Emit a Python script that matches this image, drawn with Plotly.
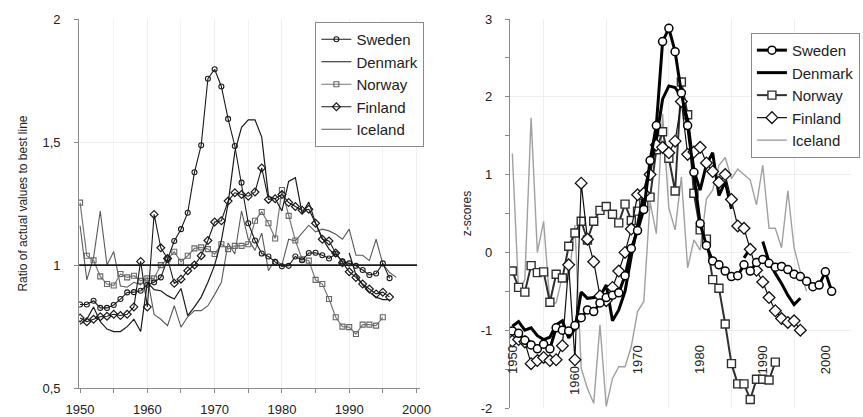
import plotly.graph_objects as go

# ---------------- data: left panel (ratio of actual values to best line) ----------------
years_left = list(range(1950, 1998))

sweden_l = [0.84, 0.84, 0.855, 0.826, 0.826, 0.838, 0.862, 0.889, 0.89, 0.896,
            0.92, 0.93, 0.95, 1.028, 1.098, 1.146, 1.213, 1.377, 1.487, 1.757,
            1.796, 1.726, 1.594, 1.484, 1.335, 1.17, 1.10, 1.047, 1.035, 1.013,
            0.995, 0.997, 1.035, 1.02, 1.049, 1.05, 1.04, 1.027, 1.045, 1.015,
            1.007, 0.997, 0.98, 0.96, 0.966, 1.007, 0.947]
denmark_l = [0.76, 0.78, 0.83, 0.77, 0.74, 0.73, 0.73, 0.75, 0.78, 0.73,
             0.93, 0.90, 0.896, 0.876, 0.862, 0.905, 0.795, 0.83, 0.87, 0.93,
             1.0, 1.1, 1.25, 1.46, 1.56, 1.59, 1.59, 1.52, 1.28, 1.27,
             1.22, 1.34, 1.355, 1.21, 1.256, 1.17, 1.11, 1.065, 1.04, None,
             1.05, 0.96, 0.92, 0.89, 0.87, 0.86, 0.86]
norway_l = [1.254, 1.038, 1.02, 0.954, 0.923, 0.917, 0.964, 0.95, 0.957, 0.936,
            0.946, 0.946, 1.0, 1.024, 1.054, 1.013, 1.038, 1.068, 1.072, 1.065,
            1.045, 1.085, 1.065, 1.078, 1.078, 1.085, 1.18, 1.216, 1.17, 1.108,
            1.305, 1.20, 1.10, 1.024, 1.018, 0.94, 0.923, 0.862, 0.788, 0.75,
            0.748, 0.72, 0.758, 0.758, 0.754, 0.788]
finland_l = [0.785, 0.77, 0.78, 0.79, 0.792, 0.80, 0.795, 0.80, 0.83, 1.015,
             0.83, 1.206, 1.07, 1.027, 0.926, 0.943, 0.977, 1.0, 1.038, 1.10,
             1.175, 1.18, 1.26, 1.294, 1.287, 1.28, 1.297, 1.395, 1.267, 1.27,
             1.287, 1.254, 1.238, 1.223, 1.227, 1.17, 1.105, 1.098, 1.049, 1.01,
             0.973, 0.95, 0.923, 0.903, 0.883, 0.89, 0.87]
iceland_l = [1.16, 0.94, 1.03, 1.22, 1.0, 1.055, 0.915, 0.91, 0.93, 0.92,
             0.95, 0.80, 0.78, 0.754, 0.835, 0.748, 0.79, 0.815, 0.815, 0.835,
             0.88, 0.93, 1.09, 1.045, 1.22, 1.105, 1.06, 1.13, 0.977, 1.024,
             1.0, 1.105, 1.098, 1.13, 1.162, 1.135, 1.146, 1.139, 1.125, 1.105,
             1.146, 1.04, 1.04, 1.018, 1.105, 1.004, 0.97, 0.95]
reference_ratio = 1.0

left_x_ticks = [1950, 1960, 1970, 1980, 1990, 2000]
left_x_labels = ["1950", "1960", "1970", "1980", "1990", "2000"]
left_y_ticks = [0.5, 1.0, 1.5, 2.0]
left_y_labels = ["0,5", "1", "1,5", "2"]

# ---------------- data: right panel (z-scores) ----------------
years_right = list(range(1950, 2002))

sweden_r = [-1.01, -1.04, -1.13, -1.19, -1.24, -1.18, -1.24, -0.97, -1.0, -1.01,
            -0.94, -0.84, -0.74, -0.76, -0.65, -0.58, -0.55, -0.52, -0.30, 0.05,
            0.28, 0.55, 1.18, 1.63, 2.71, 2.88, 2.58, 2.05, 1.63, 1.03,
            0.37, 0.09, -0.11, -0.16, -0.24, -0.31, -0.30, -0.16, -0.24, -0.13,
            -0.09, -0.14, -0.19, -0.18, -0.22, -0.28, -0.31, -0.37, -0.44, -0.42,
            -0.25, -0.50]
denmark_r = [-0.95, -0.89, -1.0, -0.97, -1.07, -1.12, -1.09, -0.93, -0.88, -1.10,
             -0.98, -0.51, -0.59, -0.58, -0.57, -0.42, -0.88, -0.74, -0.50, -0.05,
             0.35, 0.75, 1.1, 1.45, 1.97, 2.14, 2.12, 2.0, 1.7, 1.05,
             0.8, 1.13, 1.28, 0.73, 0.91, 0.56, None, -0.07, 0.05, None,
             0.14, -0.12, -0.27, -0.40, -0.55, -0.67, -0.59]
norway_r = [-0.24, -0.45, -0.51, -0.17, -0.26, -0.25, -0.64, -0.28, -0.33, 0.08,
            0.25, 0.40, 0.16, 0.40, 0.54, 0.59, 0.49, 0.38, 0.62, 0.41,
            0.53, 0.63, 0.71, 1.32, 1.55, 1.21, 0.79, 2.19, 1.77, 0.76,
            0.29, 0.17, -0.35, -0.46, -0.92, -1.43, -1.69, -1.69, -1.89, -1.63,
            -1.63, -1.64, -1.41]
finland_r = [-1.14, -1.12, -1.15, -1.43, -1.39, -1.35, -1.39, -1.38, -1.2, -0.16,
             -1.38, 0.89, 0.17, -0.12, -0.56, -0.62, -0.45, -0.24, 0.0, 0.30,
             0.74, 0.76, 1.0, 1.38, 1.35, 1.28, 1.43, 1.94, 1.26, 1.29,
             1.35, 1.15, 1.04, 0.90, 1.0, 0.68, 0.34, 0.31, 0.04, -0.23,
             -0.38, -0.58, -0.75, -0.85, -0.90, -0.88, -1.0]
iceland_r = [1.27, -0.5, -0.35, 1.73, 0.0, 0.4, -0.66, -0.65, -0.3, -0.35,
             0.35, -1.49, -1.75, -1.94, -0.93, -1.98, -1.62, -1.47, -1.47, -1.21,
             -0.76, -0.63, 0.65, 0.24, 1.78, 0.57, 0.29, 0.97, -0.2, 0.16,
             0.03, 0.69, 0.8, 1.12, 1.22, 0.95, 1.07, 1.0, 0.93, 0.61,
             1.12, 0.31, 0.31, 0.06, 0.79, 0.06, -0.25, -0.5]

right_x_labels = ["1950", "1960", "1970", "1980", "1990", "2000"]
right_x_label_years = [1950, 1960, 1970, 1980, 1990, 2000]
right_y_ticks = [-2, -1, 0, 1, 2, 3]
right_y_labels = ["-2", "-1", "0", "1", "2", "3"]

countries = ["Sweden", "Denmark", "Norway", "Finland", "Iceland"]

# ---------------- figure ----------------
FONT = "Liberation Sans, Arial, sans-serif"
fig = go.Figure()

def yrs(base, vals):
    return base[:len(vals)]

left_style = {
    "Sweden": dict(line=dict(color="#1a1a1a", width=1.1),
                   marker=dict(symbol="circle-open", size=5, color="#1a1a1a", line=dict(width=1.1)),
                   mode="lines+markers"),
    "Denmark": dict(line=dict(color="#1a1a1a", width=1.2), mode="lines"),
    "Norway": dict(line=dict(color="#777777", width=1.2),
                   marker=dict(symbol="square-open", size=5, color="#666666", line=dict(width=1.1)),
                   mode="lines+markers"),
    "Finland": dict(line=dict(color="#1a1a1a", width=1.1),
                    marker=dict(symbol="diamond-open", size=6, color="#1a1a1a", line=dict(width=1.2)),
                    mode="lines+markers"),
    "Iceland": dict(line=dict(color="#5a5a5a", width=1.1), mode="lines"),
}
left_vals = {"Sweden": sweden_l, "Denmark": denmark_l, "Norway": norway_l,
             "Finland": finland_l, "Iceland": iceland_l}

draw_order = ["Iceland", "Norway", "Denmark", "Finland", "Sweden"]
for name in draw_order:
    v = left_vals[name]
    st = left_style[name]
    fig.add_trace(go.Scatter(x=yrs(years_left, v), y=v, name=name, xaxis="x", yaxis="y",
                             legend="legend", legendrank=countries.index(name) + 1,
                             connectgaps=False, **st))

right_style = {
    "Sweden": dict(line=dict(color="#000000", width=3),
                   marker=dict(symbol="circle", size=8, color="white", line=dict(color="#000000", width=1.5)),
                   mode="lines+markers"),
    "Denmark": dict(line=dict(color="#000000", width=3), mode="lines"),
    "Norway": dict(line=dict(color="#303030", width=2),
                   marker=dict(symbol="square", size=8, color="white", line=dict(color="#303030", width=1.4)),
                   mode="lines+markers"),
    "Finland": dict(line=dict(color="#111111", width=1.2),
                    marker=dict(symbol="diamond", size=9, color="white", line=dict(color="#111111", width=1.3)),
                    mode="lines+markers"),
    "Iceland": dict(line=dict(color="#a0a0a0", width=1.4), mode="lines"),
}
right_vals = {"Sweden": sweden_r, "Denmark": denmark_r, "Norway": norway_r,
              "Finland": finland_r, "Iceland": iceland_r}
for name in draw_order:
    v = right_vals[name]
    st = right_style[name]
    fig.add_trace(go.Scatter(x=yrs(years_right, v), y=v, name=name, xaxis="x2", yaxis="y2",
                             legend="legend2", legendrank=countries.index(name) + 1,
                             connectgaps=False, **st))

W, H = 863, 417
axis_common = dict(showline=True, linecolor="#8a8a8a", linewidth=1, ticks="outside",
                   tickcolor="#8a8a8a", ticklen=4, zeroline=False,
                   tickfont=dict(family=FONT, size=13, color="#222222"))

fig.update_layout(
    width=W, height=H,
    margin=dict(l=0, r=0, t=19, b=6),
    paper_bgcolor="white", plot_bgcolor="white",
    font=dict(family=FONT, size=13, color="#222222"),
    xaxis=dict(domain=[67 / W, 418 / W], range=[1949.86, 2000.58], anchor="y",
               tickmode="array", tickvals=left_x_ticks, ticktext=left_x_labels,
               ticklabelstandoff=5,
               showgrid=True, gridcolor="#eeeeee",
               minor=dict(dtick=5, tick0=1950, ticks="outside", ticklen=4, tickcolor="#8a8a8a",
                          showgrid=True, gridcolor="#f3f3f3"),
               **axis_common),
    yaxis=dict(domain=[20 / 392, 1], range=[0.5, 2], anchor="x",
               tickmode="array", tickvals=left_y_ticks, ticktext=left_y_labels,
               ticklabelstandoff=11,
               showgrid=True, gridcolor="#eeeeee",
               title=dict(text="Ratio of actual values to best line", standoff=12,
                          font=dict(family=FONT, size=12, color="#222222")),
               automargin=False, **axis_common),
    xaxis2=dict(domain=[510 / W, 861 / W], range=[1949.6, 2004.1], anchor="y2",
                showticklabels=False, showline=False, ticks="", zeroline=False,
                tickmode="array", tickvals=[1955, 1965, 1975, 1985, 1995],
                showgrid=True, gridcolor="#eeeeee"),
    yaxis2=dict(domain=[0, 1], range=[-2, 3], anchor="x2",
                tickmode="array", tickvals=right_y_ticks, ticktext=right_y_labels,
                ticklabelstandoff=10,
                showgrid=True, gridcolor="#eeeeee",
                minor=dict(dtick=0.5, tick0=0, ticks="outside", ticklen=4, tickcolor="#8a8a8a",
                           showgrid=False),
                title=dict(text="z-scores", standoff=6,
                           font=dict(family=FONT, size=12, color="#222222")),
                automargin=False, **axis_common),
    legend=dict(x=310 / W, y=(411 - 22) / 392, xanchor="left", yanchor="top",
                bgcolor="white", bordercolor="#8a8a8a", borderwidth=1,
                font=dict(family=FONT, size=15, color="#222222"),
                tracegroupgap=0, itemwidth=30),
    legend2=dict(x=758 / W, y=(411 - 33) / 392, xanchor="left", yanchor="top",
                 bgcolor="white", bordercolor="#8a8a8a", borderwidth=1,
                 font=dict(family=FONT, size=15, color="#222222"),
                 tracegroupgap=0, itemwidth=30),
    showlegend=True,
)

fig.add_shape(type="line", xref="x domain", yref="y", x0=0, x1=0.99,
              y0=reference_ratio, y1=reference_ratio,
              line=dict(color="#1a1a1a", width=1.6))

label_level = {1960: -1.64}
for yr, txt in zip(right_x_label_years, right_x_labels):
    fig.add_annotation(x=yr, y=label_level.get(yr, -1.38), xref="x2", yref="y2",
                       text=txt, textangle=-90, showarrow=False,
                       font=dict(family=FONT, size=13, color="#222222"),
                       xanchor="center", yanchor="middle")

fig.write_html("out.html")
